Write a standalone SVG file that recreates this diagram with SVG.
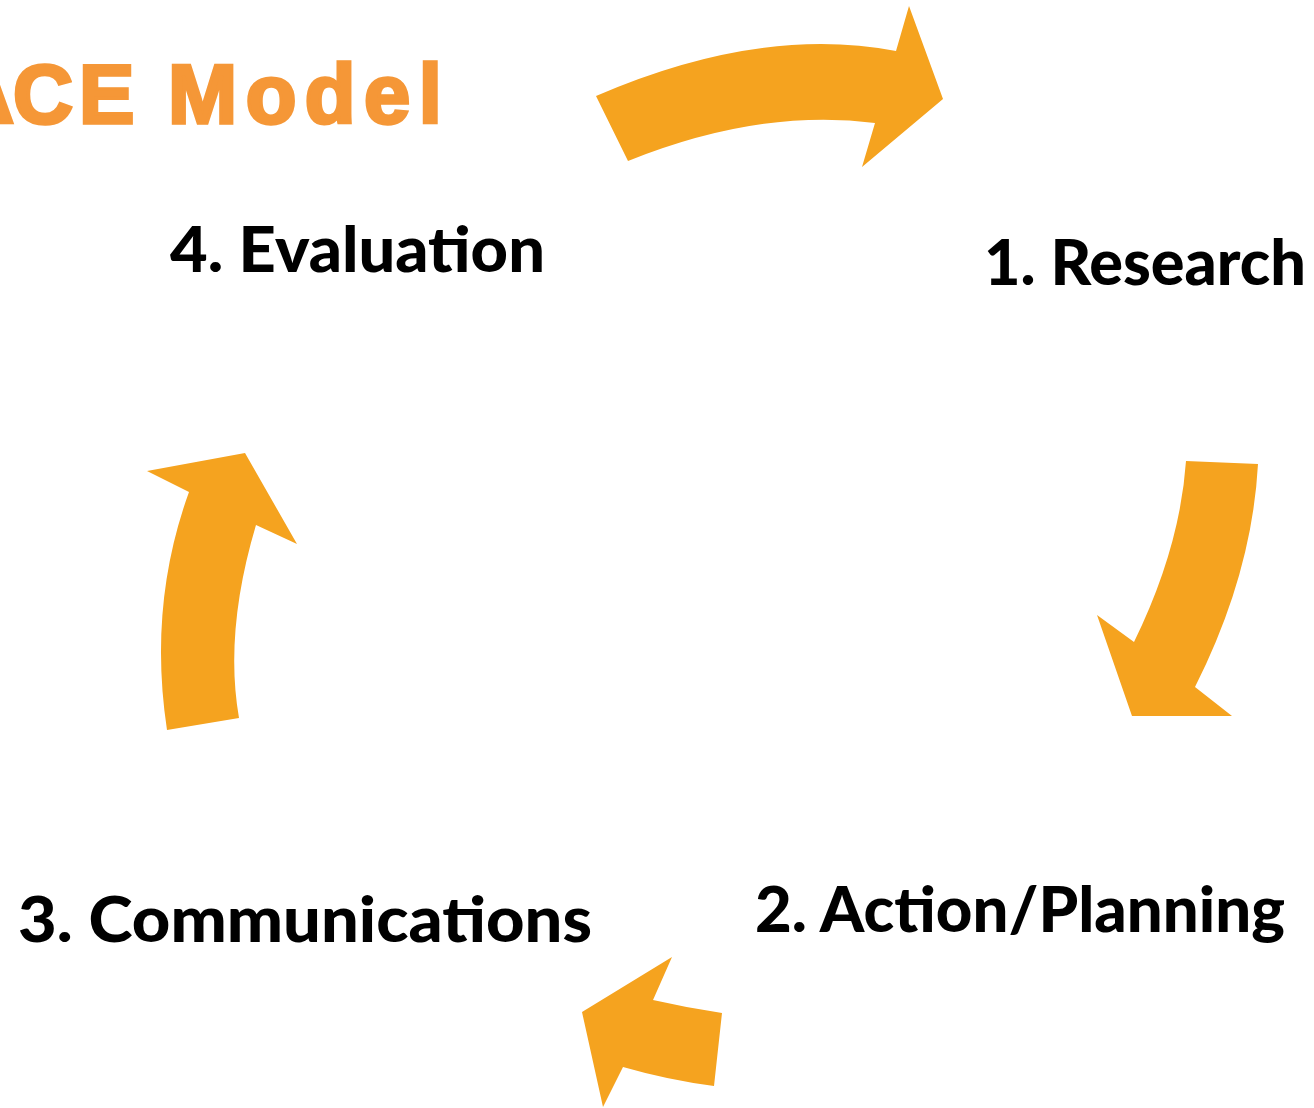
<svg xmlns="http://www.w3.org/2000/svg" width="1314" height="1108" viewBox="0 0 1314 1108">
  <style>
    .arrow { fill: #F5A31F; }
    .label { font-family: Lato, "Open Sans", "Liberation Sans", sans-serif; font-weight: 900; font-size: 62px; fill: #000000; }
    .title { font-family: "Liberation Sans", Arial, sans-serif; font-weight: 700; font-size: 83px; fill: #F59737; stroke: #F59737; stroke-width: 3.5px; stroke-linejoin: miter; }
  </style>
  <rect width="1314" height="1108" fill="#ffffff"/>
  <g id="title">
    <text class="title" y="123"><tspan x="-46">A</tspan><tspan x="13">C</tspan><tspan x="79">E</tspan><tspan x="168" letter-spacing="8.5">Model</tspan></text>
  </g>
  <g id="connectors">
    <path id="arrow-evaluation-research" class="arrow" d="M596,96 Q760,25 896,51 L909,6 L943,99 L862,167 L875,123 Q760,108 628,161 Z"/>
    <path id="arrow-research-action" class="arrow" d="M1186,461 L1258,464 Q1252,574 1195,687 L1232,716 L1132,716 L1097,615 L1134,642 Q1180,548 1186,461 Z"/>
    <path id="arrow-action-communications" class="arrow" d="M722,1013 Q688,1008 653,1000 L672,957 L582,1012 L603,1107 L623,1067 Q668,1080 714,1086 Z"/>
    <path id="arrow-communications-evaluation" class="arrow" d="M167,730 L239,718 Q224,632 256,525 L297,544 L245,453 L147,471 L189,492 Q148,605 167,730 Z"/>
  </g>
  <g id="node-research">
    <text class="label" x="984" y="285" textLength="322" lengthAdjust="spacingAndGlyphs">1. Research</text>
  </g>
  <g id="node-action">
    <text class="label" x="755" y="932" textLength="530" lengthAdjust="spacingAndGlyphs">2. Action/Planning</text>
  </g>
  <g id="node-communications">
    <text class="label" x="18" y="942" textLength="574" lengthAdjust="spacingAndGlyphs">3. Communications</text>
  </g>
  <g id="node-evaluation">
    <text class="label" x="170" y="272" textLength="375" lengthAdjust="spacingAndGlyphs">4. Evaluation</text>
  </g>
</svg>
